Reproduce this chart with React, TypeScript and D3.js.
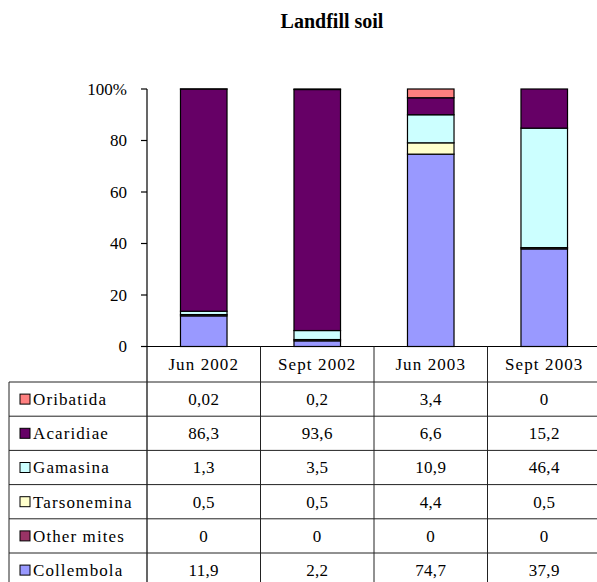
import React from "react";
import * as d3 from "d3";

const categories = ["Jun 2002", "Sept 2002", "Jun 2003", "Sept 2003"];
const seriesNames = ["Oribatida", "Acaridiae", "Gamasina", "Tarsonemina", "Other mites", "Collembola"];
const oribatida = [0.02, 0.2, 3.4, 0];
const acaridiae = [86.3, 93.6, 6.6, 15.2];
const gamasina = [1.3, 3.5, 10.9, 46.4];
const tarsonemina = [0.5, 0.5, 4.4, 0.5];
const otherMites = [0, 0, 0, 0];
const collembola = [11.9, 2.2, 74.7, 37.9];
const tableText = [
  ["0,02", "0,2", "3,4", "0"],
  ["86,3", "93,6", "6,6", "15,2"],
  ["1,3", "3,5", "10,9", "46,4"],
  ["0,5", "0,5", "4,4", "0,5"],
  ["0", "0", "0", "0"],
  ["11,9", "2,2", "74,7", "37,9"],
];
const yTicks = [0, 20, 40, 60, 80, 100];
const colors = ["#FF8080", "#660066", "#CCFFFF", "#FFFFCC", "#993366", "#9999FF"];

export default function App() {
  const W = 597, H = 582;
  const left = 147, right = 601, top = 89, bottom = 346.5;
  const x = d3.scaleBand<string>().domain(categories).range([left, right]).padding(0);
  const y = d3.scaleLinear().domain([0, 100]).range([bottom, top]);
  const barW = x.bandwidth() * 0.41;

  const valuesBySeries = [oribatida, acaridiae, gamasina, tarsonemina, otherMites, collembola];
  const rows = categories.map((c, i) => {
    const o: any = { cat: c };
    seriesNames.forEach((s, j) => (o[s] = valuesBySeries[j][i]));
    return o;
  });
  const stackKeys = [...seriesNames].reverse();
  const stacked = d3.stack<any>().keys(stackKeys).offset(d3.stackOffsetExpand)(rows);

  const tableTop = 382;
  const rowH = 34.2;
  const tableLeft = 9;
  const font = "Liberation Serif";
  const lineColor = "#222";

  return (
    <div style={{ position: "absolute", left: 0, top: 0 }}>
      <svg width={W} height={H} style={{ display: "block", background: "#fff", fontFamily: font }}>
        <text x={332} y={28} textAnchor="middle" fontSize={20} fontWeight="bold">
          Landfill soil
        </text>
        {/* bars */}
        {stacked.map((layer) => {
          const idx = seriesNames.indexOf(layer.key);
          return layer.map((d, i) => {
            const cx = (x(categories[i]) as number) + x.bandwidth() / 2;
            const y0 = y(d[0] * 100);
            const y1 = y(d[1] * 100);
            return (
              <rect
                key={layer.key + i}
                x={cx - barW / 2}
                y={y1}
                width={barW}
                height={Math.max(0, y0 - y1)}
                fill={colors[idx]}
                stroke="#000"
                strokeWidth={1.2}
              />
            );
          });
        })}
        {/* y axis */}
        <line x1={left} x2={left} y1={top} y2={H} stroke="#000" strokeWidth={1.2} />
        {yTicks.map((t) => (
          <g key={t}>
            <line x1={left - 6} x2={left} y1={y(t)} y2={y(t)} stroke="#000" strokeWidth={1.2} />
            <text x={127} y={y(t)} dy="0.35em" textAnchor="end" fontSize={17}>
              {t === 100 ? "100%" : String(t)}
            </text>
          </g>
        ))}
        {/* x axis */}
        <line x1={left} x2={right} y1={bottom} y2={bottom} stroke="#000" strokeWidth={1.2} />
        {/* header cells */}
        {categories.map((c) => (
          <g key={c}>
            <line x1={(x(c) as number) + x.bandwidth()} x2={(x(c) as number) + x.bandwidth()} y1={bottom} y2={H} stroke={lineColor} strokeWidth={1} />
            <text
              x={(x(c) as number) + x.bandwidth() / 2}
              y={(bottom + tableTop) / 2}
              dy="0.35em"
              textAnchor="middle"
              fontSize={17}
              letterSpacing={1.1}
            >
              {c}
            </text>
          </g>
        ))}
        {/* table grid */}
        <line x1={tableLeft} x2={tableLeft} y1={tableTop} y2={H} stroke={lineColor} strokeWidth={1} />
        {seriesNames.map((s, j) => (
          <line key={"h" + s} x1={tableLeft} x2={right} y1={tableTop + j * rowH} y2={tableTop + j * rowH} stroke={lineColor} strokeWidth={1} />
        ))}
        {seriesNames.map((s, j) => {
          const cy = tableTop + j * rowH + rowH / 2;
          return (
            <g key={"r" + s}>
              <rect x={20} y={cy - 5} width={10} height={10} fill={colors[j]} stroke="#000" strokeWidth={1} />
              <text x={33} y={cy} dy="0.35em" fontSize={17} letterSpacing={1.1}>
                {s}
              </text>
              {categories.map((c, i) => (
                <text
                  key={c}
                  x={(x(c) as number) + x.bandwidth() / 2}
                  y={cy}
                  dy="0.35em"
                  textAnchor="middle"
                  fontSize={17}
                  letterSpacing={0.3}
                >
                  {tableText[j][i]}
                </text>
              ))}
            </g>
          );
        })}
      </svg>
    </div>
  );
}
